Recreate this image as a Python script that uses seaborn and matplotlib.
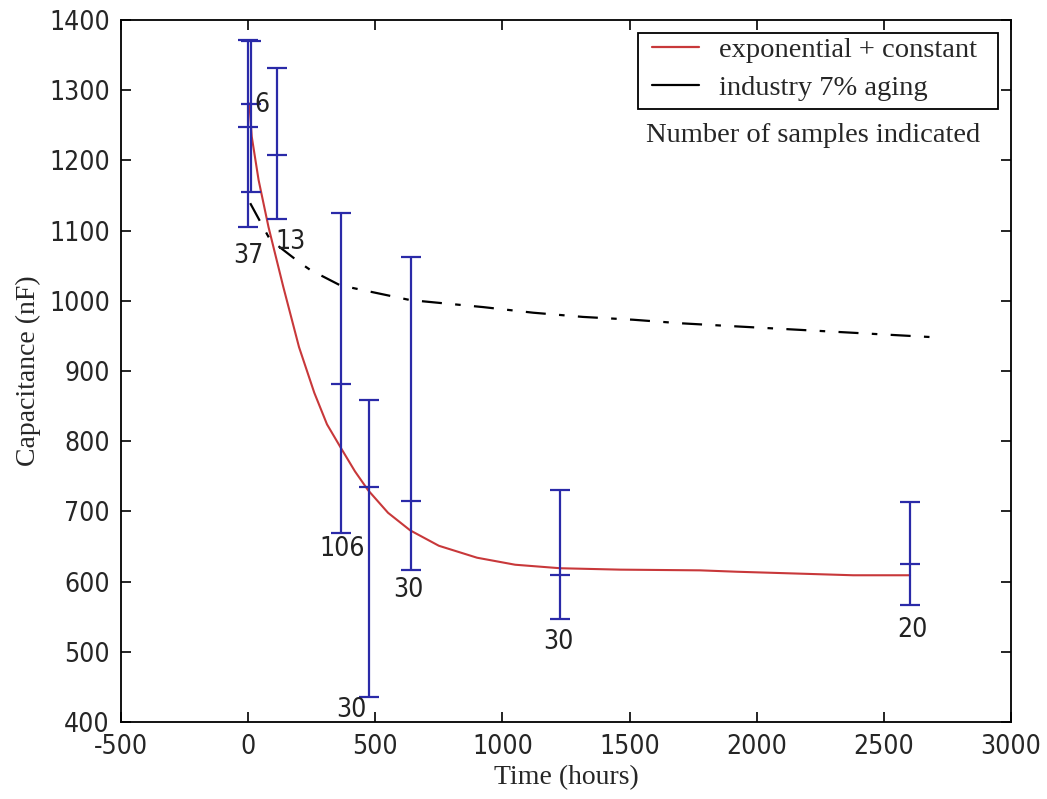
import matplotlib
matplotlib.use("Agg")
import matplotlib.pyplot as plt
from matplotlib.lines import Line2D
from matplotlib.patches import Rectangle
from matplotlib import font_manager
import seaborn as sns
import pandas as pd

# Fitted curve: exponential + constant (hours, nF)
fit_hours = [5, 14, 41, 80, 138, 200, 260, 310, 362, 420, 472, 550, 637, 750,
             900, 1050, 1227, 1463, 1777, 1923, 2379, 2603]
fit_cap = [1281, 1234, 1172, 1105, 1020, 934, 869, 824, 792, 757, 730, 698, 673,
           651, 634, 624, 619, 617, 616, 614, 609, 609]

# Industry rule of thumb: 7% aging per decade
aging_hours = [8, 86, 204, 244, 362, 637, 924, 1121, 1317, 1514, 1699, 1895, 2300, 2700]
aging_cap = [1139, 1087, 1054, 1044, 1022, 1001, 991, 983, 977, 973, 968, 964, 956, 948]

# Measured means with min/max spread and sample counts
meas_hours = [0, 12, 113, 365, 477, 640, 1227, 2603]
meas_mean = [1248, 1281, 1208, 882, 735, 715, 610, 625]
meas_low = [1105, 1155, 1116, 669, 436, 616, 546, 567]
meas_high = [1372, 1370, 1332, 1125, 859, 1063, 730, 713]
sample_counts = [37, 6, 13, 106, 30, 30, 30, 20]

# Where each count is written (data coordinates)
count_xy = [(0, 1064), (55, 1279), (165, 1084), (370, 646), (405, 417),
            (630, 588), (1219, 514), (2611, 531)]

x_ticks = [-500, 0, 500, 1000, 1500, 2000, 2500, 3000]
y_ticks = [400, 500, 600, 700, 800, 900, 1000, 1100, 1200, 1300, 1400]

sns.set_style("white")

installed = {f.name for f in font_manager.fontManager.ttflist}
if "Liberation Sans Narrow" in installed:
    num_font = dict(family=["Liberation Sans Narrow", "DejaVu Sans"])
else:
    num_font = dict(family=["DejaVu Sans"], stretch="condensed")
serif = ["Liberation Serif", "DejaVu Serif"]
plt.rcParams["font.family"] = serif

fig = plt.figure(figsize=(10.47, 7.99), dpi=100)
ax = fig.add_axes([0.1156, 0.0964, 0.850, 0.8786])

fit_df = pd.DataFrame({"hours": fit_hours, "cap": fit_cap})
aging_df = pd.DataFrame({"hours": aging_hours, "cap": aging_cap})

sns.lineplot(data=fit_df, x="hours", y="cap", ax=ax, color="#c8383a",
             linewidth=1.5, sort=False, estimator=None, zorder=3)
sns.lineplot(data=aging_df, x="hours", y="cap", ax=ax, color="black",
             linewidth=1.6, sort=False, estimator=None, zorder=3,
             dashes=False)
ax.lines[-1].set_linestyle((0, (9, 6, 2.5, 6)))

err_low = [m - lo for m, lo in zip(meas_mean, meas_low)]
err_high = [hi - m for m, hi in zip(meas_mean, meas_high)]
ax.errorbar(meas_hours, meas_mean, yerr=[err_low, err_high], fmt="_",
            color="#2a2aa8", ecolor="#2a2aa8", elinewidth=1.6, capsize=7,
            capthick=1.6, markersize=14, markeredgewidth=1.6, zorder=4)

for n, (tx, ty) in zip(sample_counts, count_xy):
    ax.text(tx, ty, str(n), fontsize=19, ha="center", va="center",
            color="#222222", zorder=5, **num_font)

ax.set_xlim(-500, 3000)
ax.set_ylim(400, 1400)
ax.set_xticks(x_ticks)
ax.set_yticks(y_ticks)
ax.set_xticklabels([str(v) for v in x_ticks], fontsize=19, **num_font)
ax.set_yticklabels([str(v) for v in y_ticks], fontsize=19, **num_font)
ax.tick_params(direction="in", length=7, width=1.2, color="black",
               top=True, right=True, bottom=True, left=True)
ax.tick_params(axis="x", pad=9)
ax.tick_params(axis="y", pad=8)
for s in ax.spines.values():
    s.set_color("black")
    s.set_linewidth(1.3)

ax.set_xlabel("Time (hours)", fontsize=20, labelpad=3)
ax.set_ylabel("Capacitance (nF)", fontsize=20, labelpad=6)

# Legend entries without their own frame; the box is drawn separately
handles = [Line2D([], [], color="#c8383a", linewidth=1.6),
           Line2D([], [], color="black", linewidth=1.6)]
leg = ax.legend(handles, ["exponential + constant", "industry 7% aging"],
                loc="upper left", bbox_to_anchor=(0.5966, 0.9758),
                fontsize=20.5, frameon=False, handlelength=1.65,
                handletextpad=0.7, borderpad=0, labelspacing=0.43,
                borderaxespad=0)
ax.add_patch(Rectangle((0.581, 0.8732), 0.4044, 0.1083, transform=ax.transAxes,
                       facecolor="none", edgecolor="black", linewidth=1.3,
                       zorder=6))

ax.text(2222, 1235, "Number of samples indicated", fontsize=20.5,
        ha="center", va="center")

fig.savefig("out.png", dpi=100)
